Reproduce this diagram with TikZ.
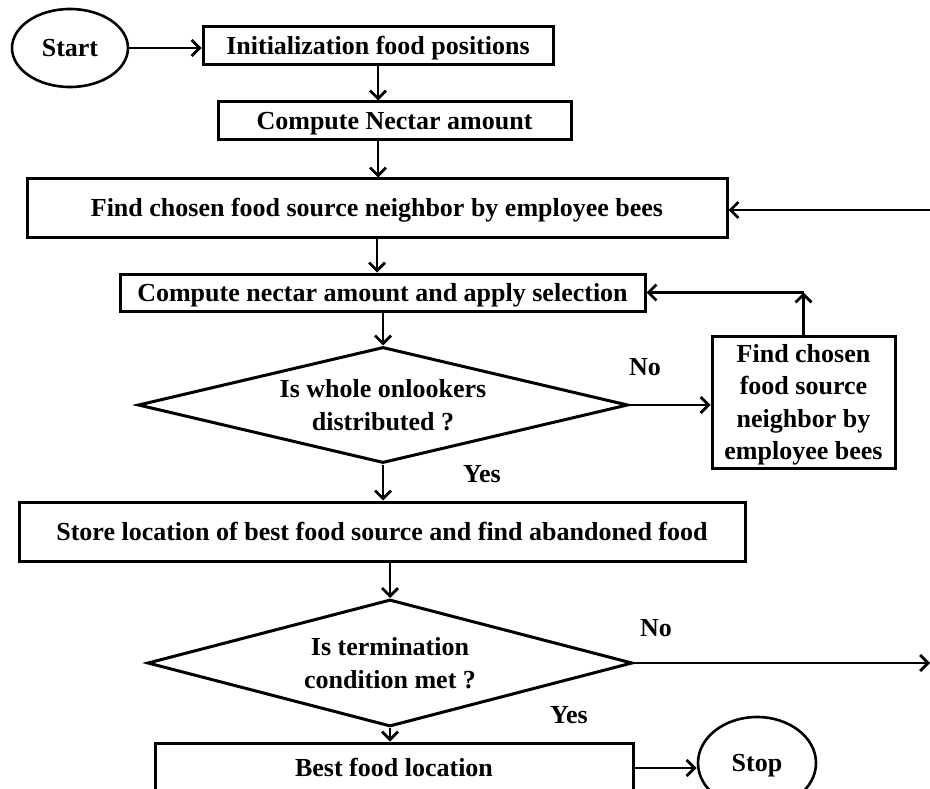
\documentclass[tikz,border=0pt]{standalone}
\usepackage{fontspec}
\setmainfont{Liberation Serif}
\usetikzlibrary{shapes.geometric,arrows.meta}
\begin{document}
\begin{tikzpicture}[x=1pt,y=-1pt,
  every node/.style={font=\fontsize{26}{32.5}\selectfont\bfseries},
  procbox/.style={draw,line width=3pt,rectangle,inner sep=0pt,align=center},
  oneline/.style={text height=19pt,text depth=2pt},
  termnode/.style={draw,line width=2.6pt,ellipse,inner sep=0pt,oneline},
  decide/.style={draw,line width=3pt,diamond,inner sep=0pt,align=center},
  arr/.style={line width=2.8pt,-{Straight Barb[length=8pt,width=16pt]}},
  lbl/.style={inner sep=0pt}]
\useasboundingbox (0,0) rectangle (930,789);

% terminals
\node[termnode,minimum width=116pt,minimum height=78pt] (start) at (70,48) {Start};
\node[termnode,minimum width=118pt,minimum height=92pt] (stop) at (757,763) {Stop};

% process boxes
\node[procbox,oneline,minimum width=350pt,minimum height=38pt] (init) at (378,46) {Initialization food positions};
\node[procbox,oneline,minimum width=353pt,minimum height=38pt] (compute) at (394.5,121) {Compute Nectar amount};
\node[procbox,oneline,minimum width=700pt,minimum height=59pt] (find) at (377,208.5) {Find chosen food source neighbor by employee bees};
\node[procbox,oneline,minimum width=525pt,minimum height=37pt] (compute2) at (382.5,292.5) {Compute nectar amount and apply selection};
\node[procbox,text depth=0pt,minimum width=183pt,minimum height=132pt] (side) at (803.5,402) {Find chosen\\food source\\neighbor by\\employee bees};
\node[procbox,oneline,minimum width=726pt,minimum height=59pt] (store) at (382,531.5) {Store location of best food source and find abandoned food};
\node[procbox,oneline,minimum width=478pt,minimum height=50pt] (best) at (394,768) {Best food location};

% decisions
\node[decide,aspect=4.22,minimum width=490pt,minimum height=116pt] (d1) at (383,405) {Is whole onlookers\\distributed ?};
\node[decide,aspect=3.82,minimum width=485pt,minimum height=127pt] (d2) at (390,663) {Is termination\\condition met ?};

% branch labels
\node[lbl] (no1) at (645,367) {No};
\node[lbl] (yes1) at (482,474) {Yes};
\node[lbl] (no2) at (656,628) {No};
\node[lbl] (yes2) at (569,715) {Yes};

% free ends at the right border
\coordinate (loopR) at (930,210);
\coordinate (exitR) at (930,663);
\coordinate (turn) at (side.north |- compute2.east);

% connectors
\draw[arr] (start.east) -- (start.east -| init.west);
\draw[arr] (init.south) -- (init.south |- compute.north);
\draw[arr] (init.south |- compute.south) -- (init.south |- find.north);
\draw[arr] (find.south) -- (find.south |- compute2.north);
\draw[arr] (compute2.south -| d1.north) -- (d1.north);
\draw[arr] (d1.east) -- (d1.east -| side.west);
\draw[arr] (side.north) -- (turn);
\draw[arr] (turn) -- (compute2.east);
\draw[arr] (d1.south) -- (d1.south |- store.north);
\draw[arr] (store.south -| d2.north) -- (d2.north);
\draw[arr] (d2.east) -- (exitR);
\draw[arr] (d2.south) -- (d2.south |- best.north);
\draw[arr] (best.east) -- (best.east -| stop.west);
\draw[arr] (loopR) -- (loopR -| find.east);
\end{tikzpicture}
\end{document}
